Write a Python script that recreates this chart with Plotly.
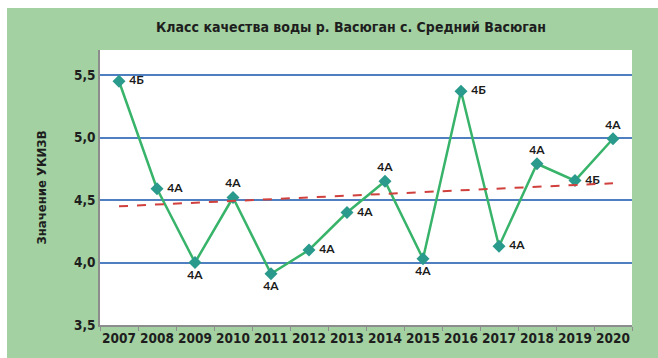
import numpy as np
import plotly.graph_objects as go

years = ["2007", "2008", "2009", "2010", "2011", "2012", "2013",
         "2014", "2015", "2016", "2017", "2018", "2019", "2020"]
ukizv = [5.45, 4.59, 4.00, 4.52, 3.91, 4.10, 4.40,
         4.65, 4.03, 5.37, 4.13, 4.79, 4.655, 4.99]
classes = ["4Б", "4А", "4А", "4А", "4А", "4А", "4А",
           "4А", "4А", "4Б", "4А", "4А", "4Б", "4А"]
label_pos = ["middle right", "middle right", "bottom center", "top center",
             "bottom center", "middle right", "middle right", "top center",
             "bottom center", "middle right", "middle right", "top center",
             "middle right", "top center"]

# linear trend over the series
idx = np.arange(len(ukizv))
slope, intercept = np.polyfit(idx, ukizv, 1)
trend = [intercept, intercept + slope * idx[-1]]

GREEN_BG = "#a3d1a1"
NARROW = "DejaVu Sans Condensed, Roboto, sans-serif"

fig = go.Figure()

fig.add_trace(go.Scatter(
    x=years, y=ukizv, mode="lines+markers+text",
    line=dict(color="#38b36a", width=2.5),
    marker=dict(symbol="diamond", size=10, color="#2a9a8c"),
    text=[" " + c + " " for c in classes], textposition=label_pos,
    textfont=dict(family="Lato, Open Sans, sans-serif", size=12, color="#1a1a1a", weight="bold"),
    cliponaxis=False, showlegend=False,
))

fig.add_trace(go.Scatter(
    x=[years[0], years[-1]], y=trend, mode="lines",
    line=dict(color="#d0403c", width=2, dash="dash"),
    hoverinfo="skip", showlegend=False,
))

fig.update_layout(
    width=658, height=358,
    margin=dict(l=100, r=26, t=50, b=33, autoexpand=False),
    paper_bgcolor=GREEN_BG,
    plot_bgcolor="white",
    separators=", ",
    title=dict(
        text="Класс качества воды р. Васюган с. Средний Васюган",
        x=351 / 658, xanchor="center", y=1 - 27 / 358, yanchor="middle",
        font=dict(family=NARROW, size=14, color="#1e1e1e", weight="bold"),
    ),
    xaxis=dict(
        type="category", categoryorder="array", categoryarray=years,
        range=[-0.5, 13.5], tickangle=0, automargin=False,
        showline=True, linecolor="#8c8c8c", linewidth=1.5,
        ticks="outside", tickson="boundaries", ticklen=4, tickcolor="#8c8c8c",
        showgrid=False,
        tickfont=dict(family=NARROW, size=13.5, color="#1e1e1e", weight="bold"),
    ),
    yaxis=dict(
        range=[3.5, 5.7], dtick=0.5, tick0=3.5, tickformat=".1f",
        automargin=False,
        showline=True, linecolor="#8c8c8c", linewidth=1.5,
        showgrid=True, gridcolor="#4f7fc0", gridwidth=1.5,
        zeroline=False, ticks="",
        tickfont=dict(family=NARROW, size=13.5, color="#1e1e1e", weight="bold"),
        title=dict(text="Значение УКИЗВ", standoff=24,
                   font=dict(family=NARROW, size=13, color="#1e1e1e", weight="bold")),
    ),
    shapes=[
        # white frame strips along the top and left edges of the page
        dict(type="rect", xref="paper", yref="paper",
             x0=-100 / 532, x1=1.2, y0=(325 - 8) / 275, y1=1.2,
             fillcolor="white", line=dict(width=0), layer="below"),
        dict(type="rect", xref="paper", yref="paper",
             x0=-0.2, x1=-93 / 532, y0=-0.2, y1=1.2,
             fillcolor="white", line=dict(width=0), layer="below"),
    ],
)

fig.write_html("out.html")
